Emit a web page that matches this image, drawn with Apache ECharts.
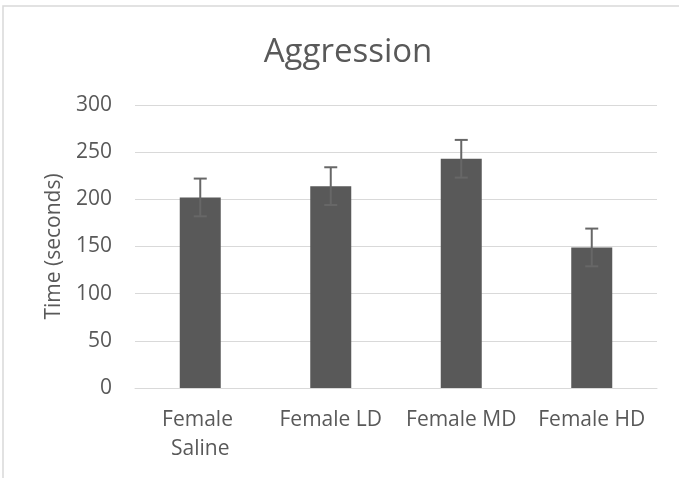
<!DOCTYPE html>
<html>
<head>
<meta charset="utf-8">
<script src="https://cdn.jsdelivr.net/npm/echarts@6/dist/echarts.min.js"></script>
<style>
  html, body { margin: 0; padding: 0; background: #fff; }
  #chart { width: 679px; height: 478px; }
</style>
</head>
<body>
<div id="chart"></div>
<script>
// data
const categories = ["Female Saline", "Female LD", "Female MD", "Female HD"];
const meanTime = [202, 214, 243, 149];
const errTime = [20, 20, 20, 20];
const yTicks = [0, 50, 100, 150, 200, 250, 300];

const textColor = "#595959";
const barColor = "#595959";
const gridColor = "#d9d9d9";
const font = "'Open Sans', 'Noto Sans', sans-serif";

const errData = meanTime.map((v, i) => [i, v - errTime[i], v + errTime[i]]);

const chart = echarts.init(document.getElementById("chart"));
chart.setOption({
  animation: false,
  backgroundColor: "#fff",
  graphic: [
    {
      type: "rect",
      shape: { x: 3, y: 6, width: 900, height: 700 },
      style: { fill: "none", stroke: gridColor, lineWidth: 1.5 },
      silent: true
    }
  ],
  title: {
    text: "Aggression",
    left: 343,
    top: 31,
    textAlign: "center",
    textStyle: { fontFamily: font, fontSize: 33, fontWeight: "normal", color: textColor }
  },
  grid: { left: 135, right: 22, top: 105, bottom: 90 },
  xAxis: {
    type: "category",
    data: categories,
    axisLine: { show: true, lineStyle: { color: gridColor, width: 1 } },
    axisTick: { show: false },
    axisLabel: {
      interval: 0,
      margin: 18,
      width: 125,
      overflow: "break",
      lineHeight: 29,
      fontFamily: font,
      fontSize: 21,
      color: textColor
    }
  },
  yAxis: {
    type: "value",
    min: yTicks[0],
    max: yTicks[yTicks.length - 1],
    interval: 50,
    name: "Time (seconds)",
    nameLocation: "middle",
    nameGap: 70,
    nameTextStyle: { fontFamily: font, fontSize: 21, color: textColor },
    axisLine: { show: false },
    axisTick: { show: false },
    splitLine: { lineStyle: { color: gridColor, width: 1 } },
    axisLabel: { margin: 23, fontFamily: font, fontSize: 21, color: textColor }
  },
  series: [
    {
      type: "bar",
      data: meanTime,
      barWidth: 41,
      itemStyle: { color: barColor },
      silent: true
    },
    {
      type: "custom",
      data: errData,
      silent: true,
      z: 3,
      renderItem: function (params, api) {
        const x = api.value(0);
        const lo = api.coord([x, api.value(1)]);
        const hi = api.coord([x, api.value(2)]);
        const cap = 6.5;
        const style = { stroke: "#676767", lineWidth: 2 };
        return {
          type: "group",
          children: [
            { type: "line", shape: { x1: hi[0], y1: hi[1], x2: lo[0], y2: lo[1] }, style: style },
            { type: "line", shape: { x1: hi[0] - cap, y1: hi[1], x2: hi[0] + cap, y2: hi[1] }, style: style },
            { type: "line", shape: { x1: lo[0] - cap, y1: lo[1], x2: lo[0] + cap, y2: lo[1] }, style: style }
          ]
        };
      }
    }
  ]
});
</script>
</body>
</html>
